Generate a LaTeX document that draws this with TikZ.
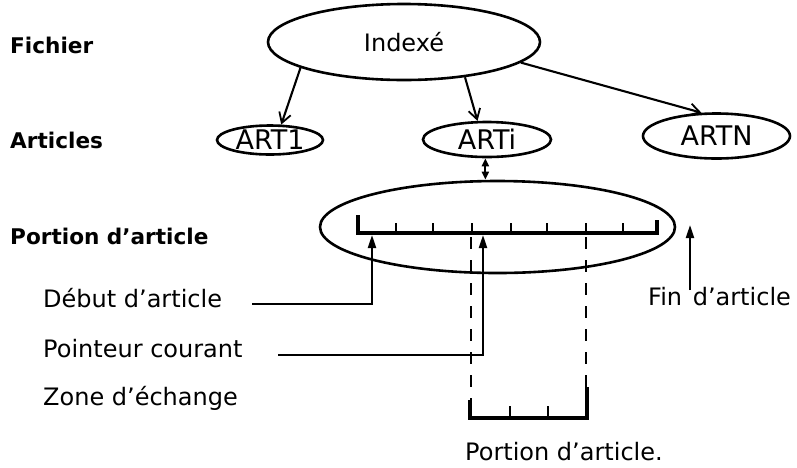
\documentclass[tikz,border=0pt]{standalone}
\usepackage{fontspec}
\setmainfont{DejaVu Sans}
\usetikzlibrary{shapes.geometric,arrows.meta}
\begin{document}
\begin{tikzpicture}[x=1pt,y=-1pt,
  oval/.style={draw,ellipse,line width=2.6pt,inner sep=0pt},
  lbl/.style={anchor=base west,inner sep=0pt,font=\fontsize{24}{28}\selectfont},
  blbl/.style={anchor=base west,inner sep=0pt,font=\fontsize{21.6}{26}\selectfont\bfseries},
  conn/.style={line width=2.1pt},
  topar/.style={conn,-{Straight Barb[length=10pt,width=12pt,line width=1.8pt]}},
  rar/.style={conn,-{Triangle[length=13pt,width=8pt]}},
  dblar/.style={conn,{Triangle[length=8pt,width=7pt]}-{Triangle[length=8pt,width=7pt]}},
  rulerline/.style={line width=3.2pt},
  tick/.style={line width=2.2pt},
  dsh/.style={line width=2.1pt,dash pattern=on 12pt off 11pt}
]
\useasboundingbox (0,0) rectangle (797,467);

% ellipses
\node[oval,minimum width=272pt,minimum height=76pt,font=\fontsize{24}{28}\selectfont] (idx) at (404,42) {Indexé};
\node[oval,minimum width=106pt,minimum height=29pt,font=\fontsize{27}{30}\selectfont] (art1) at (270,140) {ART1};
\node[oval,minimum width=128pt,minimum height=35pt,font=\fontsize{27}{30}\selectfont] (arti) at (487,139.5) {ARTi};
\node[oval,minimum width=147pt,minimum height=45pt,font=\fontsize{27}{30}\selectfont] (artn) at (716.5,136) {ARTN};
\node[oval,minimum width=355pt,minimum height=92pt] (big) at (497.5,227) {};

% labels
\node[blbl] (fich) at (10,53) {Fichier};
\node[blbl] (arts) at (10,148) {Articles};
\node[blbl] (port) at (10,244) {Portion d'article};
\node[lbl] (deb) at (43,307) {Début d'article};
\node[lbl] (ptr) at (43,357) {Pointeur courant};
\node[lbl] (zone) at (43,405) {Zone d'échange};
\node[lbl] (fin) at (648,305) {Fin\kern3pt\ d'article};
\node[lbl] (pa) at (465,460) {Portion d'article.};

% top arrows
\draw[topar] (idx.194) -- (art1.54);
\draw[topar] (idx.-30) -- (arti.117);
\draw[topar] (idx.-10) -- (artn.123);
\draw[dblar] (arti.-95) -- (arti.-95 |- big.north);

% ruler
\coordinate (rl) at (358,233);
\coordinate (rr) at (657,233);
\draw[rulerline] (358,215) -- (rl) -- (rr) -- (657,220);
\foreach \x in {396,433,472,511,547,586,623} \draw[tick] (\x,233) -- (\x,223);

% pointers
\coordinate (d0) at (252,304);
\coordinate (dtip) at (372,235);
\draw[rar] (d0) -| (dtip);
\coordinate (p0) at (278,355);
\coordinate (ptip) at (483,235);
\draw[rar] (p0) -| (ptip);
\coordinate (f0) at (690,290);
\coordinate (ftip) at (690,225);
\draw[rar] (f0) -- (ftip);

% exchange zone
\draw[dsh] (471,237) -- (471,400);
\draw[dsh] (586,237) -- (586,387);
\draw[rulerline] (470,400) -- (470,418) -- (587,418) -- (587,387);
\foreach \x in {510,548} \draw[tick] (\x,418) -- (\x,406);
\end{tikzpicture}
\end{document}
